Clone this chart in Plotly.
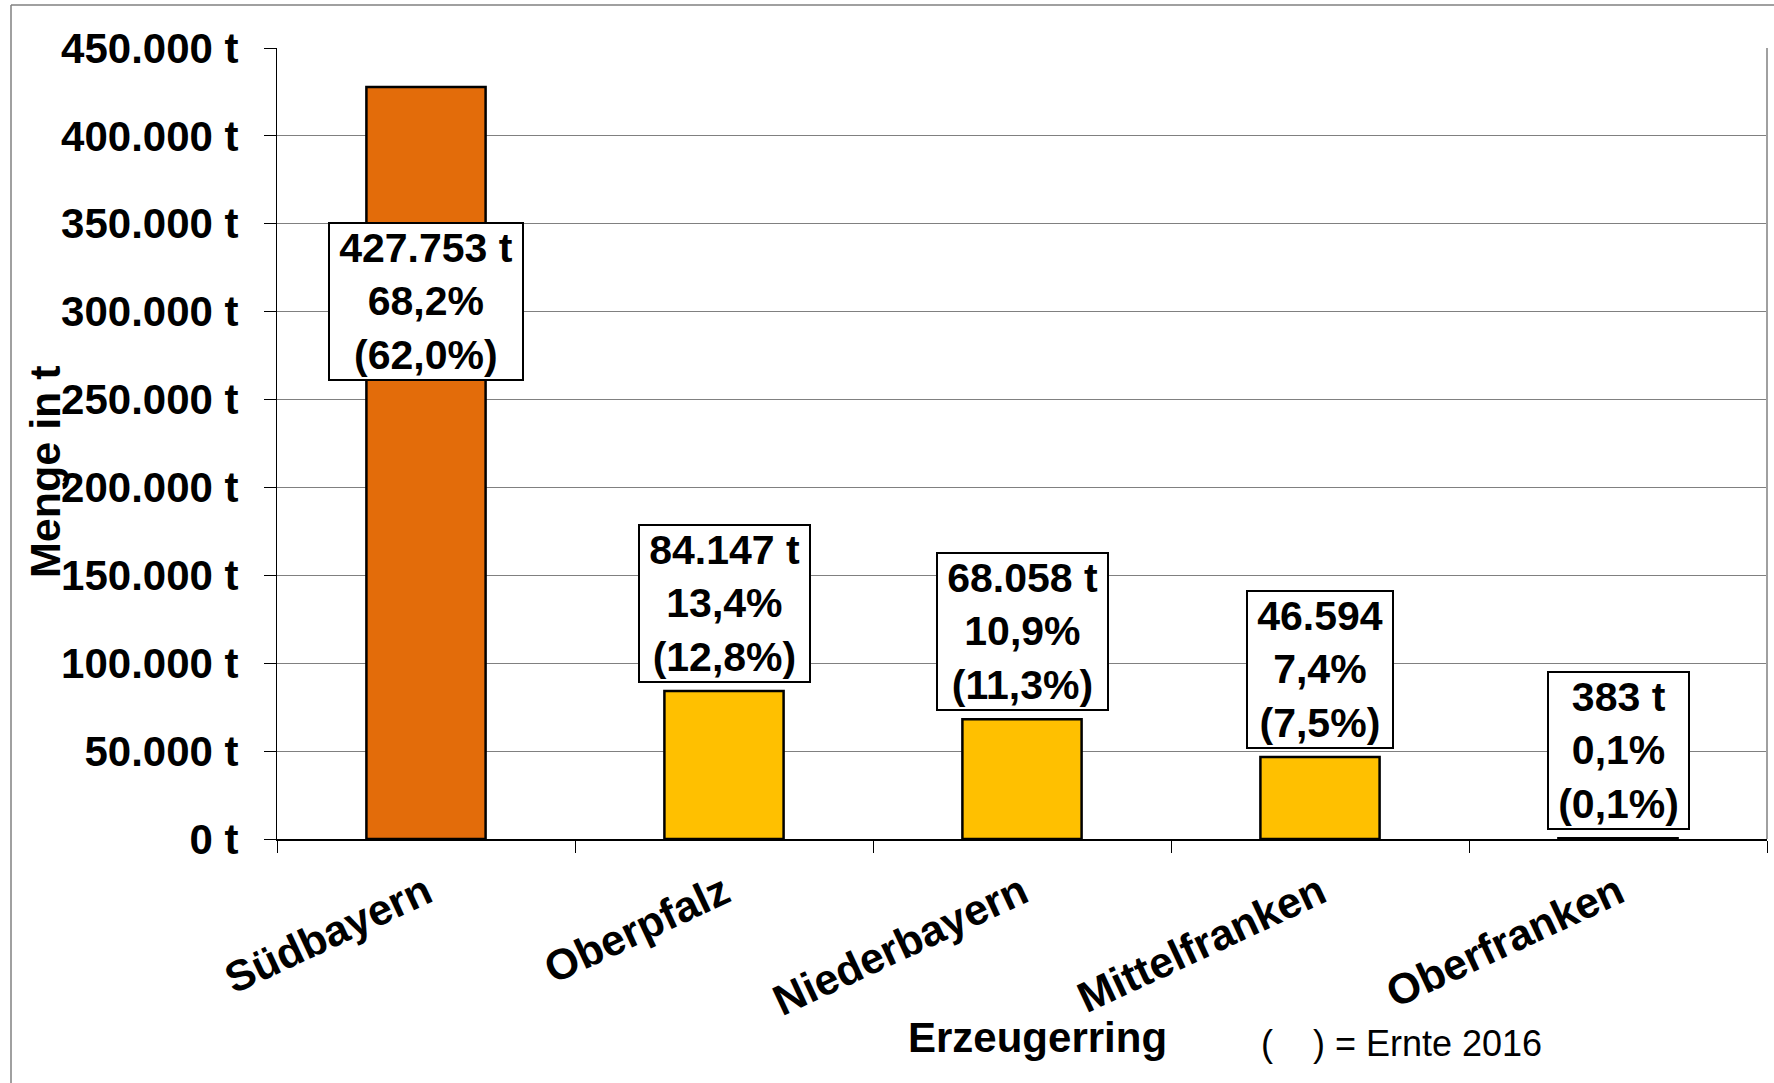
import plotly.graph_objects as go

categories = ["Südbayern", "Oberpfalz", "Niederbayern", "Mittelfranken", "Oberfranken"]
mengen = [427753, 84147, 68058, 46594, 383]
mengen_text = ["427.753 t", "84.147 t", "68.058 t", "46.594", "383 t"]
anteil_2017 = ["68,2%", "13,4%", "10,9%", "7,4%", "0,1%"]
anteil_2016 = ["(62,0%)", "(12,8%)", "(11,3%)", "(7,5%)", "(0,1%)"]
bar_colors = ["#E36C0A", "#FFC000", "#FFC000", "#FFC000", "#FFC000"]
tick_vals = [0, 50000, 100000, 150000, 200000, 250000, 300000, 350000, 400000, 450000]
tick_text = ["0 t", "50.000 t", "100.000 t", "150.000 t", "200.000 t",
             "250.000 t", "300.000 t", "350.000 t", "400.000 t", "450.000 t"]

W, H = 1774, 1083
ML, MR, MT, MB = 277, 7, 48, 244
FONT = "Liberation Sans, Arial, sans-serif"
PAD = "\u2009"

fig = go.Figure()
fig.add_trace(go.Bar(
    x=categories, y=mengen,
    marker=dict(color=bar_colors, line=dict(color="#000000", width=2.5)),
    width=0.4, hoverinfo="x+y",
))

annotations = []
for i, cat in enumerate(categories):
    lines = [mengen_text[i], anteil_2017[i], anteil_2016[i]]
    txt = "<br>".join(PAD + s + PAD for s in lines)
    if i == 0:
        ya, ys = "top", -135
    else:
        ya, ys = "bottom", 8
    annotations.append(dict(
        x=cat, y=mengen[i], xref="x", yref="y", text=txt, showarrow=False,
        yanchor=ya, yshift=ys, xanchor="center",
        font=dict(family=FONT, size=41, color="#000000", weight="bold"),
        bgcolor="#FFFFFF", bordercolor="#000000", borderwidth=2, borderpad=1,
    ))

pw, ph = W - ML - MR, H - MT - MB
annotations.append(dict(
    x=(1037 - ML) / pw, y=(H - 1037 - MB) / ph,
    xref="paper", yref="paper", text="<b>Erzeugerring</b>", showarrow=False,
    xanchor="center", yanchor="middle",
    font=dict(family=FONT, size=42, color="#000000"),
))
annotations.append(dict(
    x=(1259 - ML) / pw, y=(H - 1043 - MB) / ph,
    xref="paper", yref="paper", text="(    ) = Ernte 2016", showarrow=False,
    xanchor="left", yanchor="middle",
    font=dict(family=FONT, size=36, color="#000000"),
))
annotations.append(dict(
    x=(45 - ML) / pw, y=(H - 472 - MB) / ph,
    xref="paper", yref="paper", text="<b>Menge in t</b>", showarrow=False,
    xanchor="center", yanchor="middle", textangle=-90,
    font=dict(family=FONT, size=43, color="#000000"),
))

shapes = [
    dict(type="line", xref="paper", yref="paper",
         x0=(11 - ML) / pw, x1=(11 - ML) / pw, y0=(H - 5 - MB) / ph, y1=(H - 1090 - MB) / ph,
         line=dict(color="#808080", width=1.5)),
    dict(type="line", xref="paper", yref="paper",
         x0=(11 - ML) / pw, x1=(1780 - ML) / pw, y0=(H - 5 - MB) / ph, y1=(H - 5 - MB) / ph,
         line=dict(color="#808080", width=1.5)),
    dict(type="line", xref="paper", yref="paper",
         x0=1, x1=1, y0=0, y1=1, line=dict(color="#A0A0A0", width=2)),
]

fig.update_layout(
    width=W, height=H,
    margin=dict(l=ML, r=MR, t=MT, b=MB),
    paper_bgcolor="#FFFFFF", plot_bgcolor="#FFFFFF",
    showlegend=False, bargap=0.6,
    annotations=annotations, shapes=shapes,
    font=dict(family=FONT, color="#000000"),
)
fig.update_xaxes(
    type="category", tickson="boundaries", ticks="outside", ticklen=12,
    tickcolor="#000000", tickwidth=1, tickangle=-25, ticklabelstandoff=10,
    tickfont=dict(family=FONT, size=43, color="#000000", weight="bold"),
    showline=True, linecolor="#000000", linewidth=1.5, showgrid=False,
    range=[-0.5, 4.5],
)
fig.update_yaxes(
    range=[0, 450000], tickvals=tick_vals, ticktext=tick_text,
    ticks="outside", ticklen=12, tickcolor="#000000", tickwidth=1,
    ticklabelstandoff=17,
    tickfont=dict(family=FONT, size=42, color="#000000", weight="bold"),
    showline=True, linecolor="#000000", linewidth=1,
    showgrid=True, gridcolor="#808080", gridwidth=1.2, zeroline=False,
)

fig.write_html(
    "out.html",
    config={"displayModeBar": False},
    post_script="document.body.style.margin='0';document.body.style.overflow='hidden';",
)
